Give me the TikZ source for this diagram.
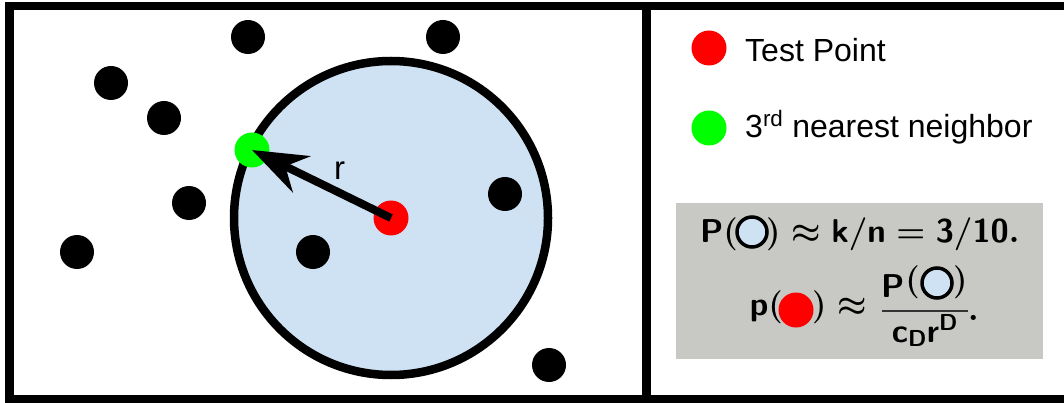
\RequirePackage{fix-cm}
\documentclass[tikz,border=0pt]{standalone}
\usepackage{fontspec}
\newfontfamily\arial{Liberation Sans}
\usetikzlibrary{arrows.meta}
\definecolor{ballblue}{RGB}{207,226,243}
\definecolor{boxgray}{RGB}{200,200,196}
\definecolor{ptred}{RGB}{255,0,0}
\definecolor{ptgreen}{RGB}{0,255,0}
\begin{document}
\begin{tikzpicture}[x=1pt,y=-1pt,
  blackpt/.style={circle, fill=black, inner sep=0, minimum size=34pt},
  redpt/.style={circle, fill=ptred, inner sep=0, minimum size=35pt},
  greenpt/.style={circle, fill=ptgreen, inner sep=0, minimum size=35pt},
  bluepie/.style={circle, fill=ballblue, draw=black, line width=3.5pt, inner sep=0, minimum size=30pt},
  fml/.style={inner sep=0, font=\fontsize{33}{40}\selectfont\boldmath},
  lbl/.style={inner sep=0, font=\arial\fontsize{32}{38}\selectfont},
]
\useasboundingbox (0,0) rectangle (1064,403);
\fill[white] (0,0) rectangle (1064,403);
% region circle
\node[circle, fill=ballblue, draw=black, line width=8.5pt, inner sep=0, minimum size=314pt] (ball) at (391,218) {};
% points
\foreach \p/\x/\y in {a/248/37, b/443/37, c/111/83, d/164/118, e/189/203, f/77/252, g/313/252, h/505/194, i/549/365}
  \node[blackpt] (\p) at (\x,\y) {};
\node[redpt] (test) at (391,218) {};
\node[greenpt] (nn) at (252,150) {};
\draw[line width=8pt, -{Stealth[length=55pt, width=40pt, inset=18pt]}] (test.center) -- (nn.center);
\node[lbl, font=\arial\fontsize{33}{38}\selectfont, anchor=base west] (rl) at (334,180) {r};
% legend
\node[redpt] (lr) at (709,48) {};
\node[lbl, anchor=base west] (lrt) at (745,62) {Test Point};
\node[greenpt] (lg) at (709,128) {};
\node[lbl, anchor=base west] (lgt) at (745,138) {3\textsuperscript{rd} nearest neighbor};
% formula box
\node[fill=boxgray, minimum width=367pt, minimum height=156pt, inner sep=0, anchor=north west] (fbox) at (676,203) {};
\node[fml, anchor=base east] (f1l) at (738,242) {$\mathsf{P}($};
\node[bluepie] (f1c) at (752,232) {};
\node[fml, anchor=base west] (f1r) at (766,242) {$)\approx\mathsf{k/n}=\mathsf{3/10}.$};
\node[fml, anchor=base east] (f2l) at (783,315) {$\mathsf{p}($};
\node[redpt] (f2c) at (796,310) {};
\node[fml, anchor=base west] (f2r) at (812,315) {$)\approx$};
\node[fml, anchor=base west] (nP) at (881,297) {$\mathsf{P}$};
\node[fml, anchor=base east] (nl) at (920,290) {$($};
\node[bluepie] (nc) at (937,283) {};
\node[fml, anchor=base west] (nr) at (953,290) {$)$};
\coordinate (barL) at (882,311);
\coordinate (barR) at (968,311);
\draw[line width=1.5pt, draw=black!80] (barL) -- (barR);
\node[fml, anchor=base] (den) at (925,342) {$\mathsf{c}_{\mathsf{D}}\mathsf{r}^{\mathsf{D}}$};
\node[fml, anchor=base west] (per) at (968,320) {$.$};
% frame
\draw[line width=8.5pt] (1064,6) -- (9.5,6) -- (9.5,399.5) -- (1064,399.5);
\draw[line width=9pt] (646.5,6) -- (646.5,399.5);
\end{tikzpicture}
\end{document}
